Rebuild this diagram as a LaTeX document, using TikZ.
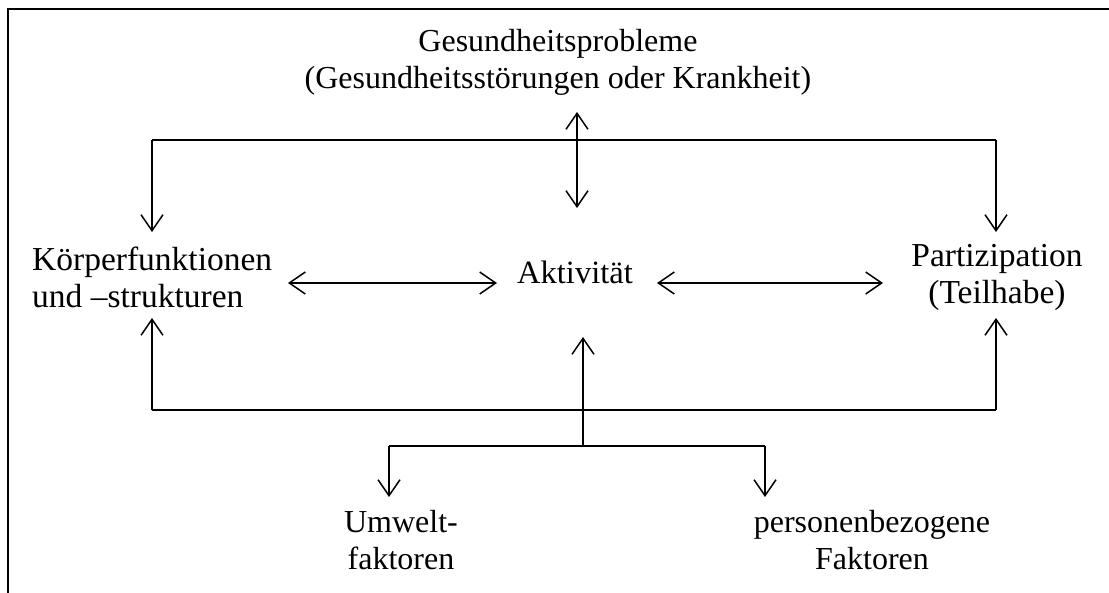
\documentclass[tikz,border=0pt]{standalone}
\usepackage{fontspec}
\setmainfont{Liberation Serif}
\usetikzlibrary{arrows.meta}
\begin{document}
\begin{tikzpicture}[x=1pt,y=-1pt,
  lbl/.style={inner sep=0pt, font=\fontsize{32}{37}\selectfont},
  side/.style={inner sep=0pt, font=\fontsize{33.5}{37}\selectfont},
  conn/.style={line width=1.5pt},
  arr/.style={conn, -{Straight Barb[length=16pt,width=22pt,line width=1.5pt]}},
  darr/.style={conn, {Straight Barb[length=16pt,width=22pt,line width=1.5pt]}-{Straight Barb[length=16pt,width=22pt,line width=1.5pt]}}]
\useasboundingbox (0,0) rectangle (1109,593);
% frame
\draw[line width=2pt] (8,593) -- (8,9) -- (1109,9);
% nodes
\node[lbl, align=center] (gp) at (558,62) {Gesundheitsprobleme\\(Gesundheitsstörungen oder Krankheit)};
\node[side, align=left, anchor=west] (kf) at (32,277) {Körperfunktionen\\und –strukturen};
\node[lbl, font=\fontsize{32.5}{37}\selectfont] (akt) at (575,272) {Aktivität};
\node[side, align=center] (part) at (997,277) {Partizipation\\(Teilhabe)};
\node[lbl, align=center] (umw) at (401,540) {Umwelt-\\faktoren};
\node[lbl, align=center] (pers) at (872,540) {personenbezogene\\Faktoren};
% coordinates
\coordinate (gpT) at (577,112);
\coordinate (gpB) at (577,208);
\coordinate (tl) at (152,140);
\coordinate (tr) at (996,140);
\coordinate (kfT) at (152,232);
\coordinate (partT) at (996,232);
\coordinate (kfB) at (152,318);
\coordinate (partB) at (996,318);
\coordinate (bl) at (152,410);
\coordinate (br) at (996,410);
\coordinate (aktB) at (583,337);
\coordinate (jc) at (583,446);
\coordinate (jl) at (389,446);
\coordinate (jr) at (765,446);
\coordinate (umwT) at (389,497);
\coordinate (persT) at (765,497);
\coordinate (kfE) at (288,283);
\coordinate (aktW) at (497,283);
\coordinate (aktE) at (657,283);
\coordinate (partW) at (883,283);
% connectors
\draw[darr] (gpT) -- (gpB);
\draw[arr] (tl) -- (kfT);
\draw[arr] (tr) -- (partT);
\draw[conn] (tl) -- (tr);
\draw[darr] (kfE) -- (aktW);
\draw[darr] (aktE) -- (partW);
\draw[arr] (bl) -- (kfB);
\draw[arr] (br) -- (partB);
\draw[conn] (bl) -- (br);
\draw[arr] (jc) -- (aktB);
\draw[conn] (jl) -- (jr);
\draw[arr] (jl) -- (umwT);
\draw[arr] (jr) -- (persT);
\end{tikzpicture}
\end{document}
